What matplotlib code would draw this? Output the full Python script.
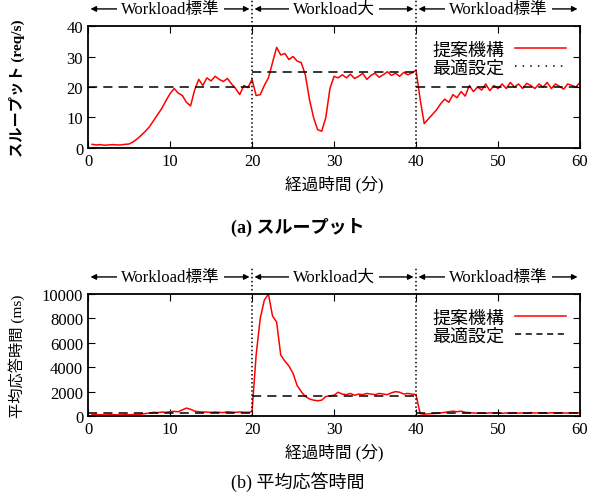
import numpy as np
import matplotlib
matplotlib.use('Agg')
from matplotlib import pyplot as plt
from matplotlib.lines import Line2D

plt.rcParams['font.family'] = ['Liberation Serif', 'Noto Sans CJK JP']
plt.rcParams['xtick.direction'] = 'in'
plt.rcParams['ytick.direction'] = 'in'

# time axis (minutes), one sample every 0.5 min
t = np.arange(1, 121) * 0.5

# throughput of the proposed mechanism
thr = [1.2, 1.0, 1.1, 0.9, 1.0, 1.1, 1.0, 1.0, 1.2, 1.3,
       2.0, 3.0, 4.2, 5.5, 7.0, 9.0, 11.0, 13.0, 15.5, 17.8,
       19.5, 18.0, 17.2, 15.0, 13.8, 19.0, 22.5, 20.5, 23.0, 22.0,
       23.5, 22.5, 21.8, 22.8, 21.0, 19.5, 17.5, 20.5, 19.8, 22.5,
       17.2, 17.5, 20.5, 23.0, 28.0, 33.0, 30.5, 31.0, 29.0, 30.0,
       28.5, 28.0, 24.0, 16.0, 10.0, 6.0, 5.5, 10.0, 19.5, 23.5,
       23.0, 24.0, 23.0, 24.2, 22.8, 23.5, 24.5, 22.5, 23.8, 24.5,
       23.2, 24.0, 25.0, 23.8, 24.5, 23.5, 24.8, 24.0, 24.6, 25.5,
       16.0, 8.0, 9.5, 11.0, 12.5, 14.5, 16.0, 15.0, 17.5, 16.5,
       18.5, 17.0, 20.5, 18.5, 20.0, 19.0, 21.0, 18.8, 20.5, 19.5,
       21.0, 19.5, 21.5, 20.0, 21.0, 19.5, 21.2, 20.5, 19.5, 21.0,
       20.0, 21.5, 19.5, 21.0, 20.2, 19.3, 21.0, 20.5, 20.0, 21.5]

# mean response time of the proposed mechanism
rt = [120, 100, 110, 90, 100, 110, 100, 90, 110, 100,
      120, 110, 150, 200, 250, 300, 280, 320, 300, 350,
      380, 350, 500, 650, 550, 400, 350, 330, 320, 300,
      330, 300, 280, 350, 320, 300, 330, 310, 300, 350,
      5000, 8000, 9500, 10000, 8200, 7700, 5000, 4500, 4100, 3500,
      2500, 2000, 1600, 1400, 1300, 1250, 1300, 1600, 1650, 1700,
      1950, 1800, 1750, 1850, 1700, 1800, 1750, 1850, 1800, 1750,
      1850, 1800, 1750, 1900, 2000, 1950, 1800, 1850, 1800, 1750,
      200, 150, 180, 200, 220, 250, 300, 350, 400, 350,
      400, 300, 280, 250, 230, 250, 220, 260, 230, 250,
      220, 250, 230, 260, 240, 250, 220, 280, 240, 260,
      250, 230, 270, 240, 260, 250, 240, 270, 250, 260]

# phases and optimal settings
phase_start = [0, 20, 40]
phase_end = [20, 40, 60]
phase_label = ['Workload標準', 'Workload大', 'Workload標準']
opt_thr = [20, 25, 20]
opt_rt = [250, 1600, 250]

jp = ['Liberation Serif', 'Noto Sans CJK JP']

fig = plt.figure(figsize=(5.96, 5.02), dpi=100)
ax1 = fig.add_axes([0.1477, 0.7032, 0.8255, 0.2430])
ax2 = fig.add_axes([0.1477, 0.1693, 0.8255, 0.2430])


def draw(ax, y, opt, ylim, yticks, ylabel, legstyle, bold):
    ax.plot(t, y, color='red', lw=1.1)
    ax.hlines(opt, phase_start, phase_end, colors='black', linestyles=(0, (6, 4)), lw=1.1)
    ax.set_xlim(0, 60)
    ax.set_ylim(*ylim)
    ax.set_xticks(range(0, 61, 10))
    ax.set_yticks(yticks)
    ax.tick_params(top=True, right=True, length=5, labelsize=12)
    for s in ax.spines.values():
        s.set_linewidth(1.3)
    ax.set_xlabel('経過時間 (分)', family=jp, fontsize=12, labelpad=4)
    ax.set_ylabel(ylabel, family=jp, fontsize=11,
                  fontweight='bold' if bold else 'normal')
    ax.yaxis.set_label_coords(-0.128, 0.5)
    tr = ax.get_xaxis_transform()
    for x in phase_end[:-1]:
        ax.plot([x, x], [0, 1.22], transform=tr, color='black', ls=':', lw=1.1, clip_on=False)
    for a, b, lab in zip(phase_start, phase_end, phase_label):
        ax.annotate('', xy=(a + 0.3, 1.14), xytext=(b - 0.3, 1.14), xycoords=tr,
                    textcoords=tr, annotation_clip=False,
                    arrowprops=dict(arrowstyle='<|-|>', color='black', lw=1.0,
                                    mutation_scale=8, shrinkA=0, shrinkB=0))
        ax.text((a + b) / 2, 1.14, lab, transform=tr, ha='center', va='center',
                family=jp, fontsize=12,
                bbox=dict(facecolor='white', edgecolor='none', pad=3))
    handles = [Line2D([], [], color='red', lw=1.1),
               Line2D([], [], color='black', ls=legstyle, lw=1.1)]
    ax.legend(handles, ['提案機構', '最適設定'], loc='upper right', frameon=False,
              markerfirst=False, prop={'family': 'Noto Sans CJK JP', 'size': 13},
              handlelength=2.8, labelspacing=0.0, borderaxespad=0.4,
              handletextpad=0.6)


draw(ax1, thr, opt_thr, (0, 40), range(0, 41, 10), 'スループット (req/s)', (0, (1, 4)), True)
draw(ax2, rt, opt_rt, (0, 10000), range(0, 10001, 2000), '平均応答時間 (ms)', (0, (4, 3)), False)

fig.text(0.5, 0.546, '(a) スループット', ha='center', va='center', family=jp,
         fontsize=13, fontweight='bold')
fig.text(0.5, 0.04, '(b) 平均応答時間', ha='center', va='center', family=jp, fontsize=13)

fig.savefig('out.png', dpi=100)
